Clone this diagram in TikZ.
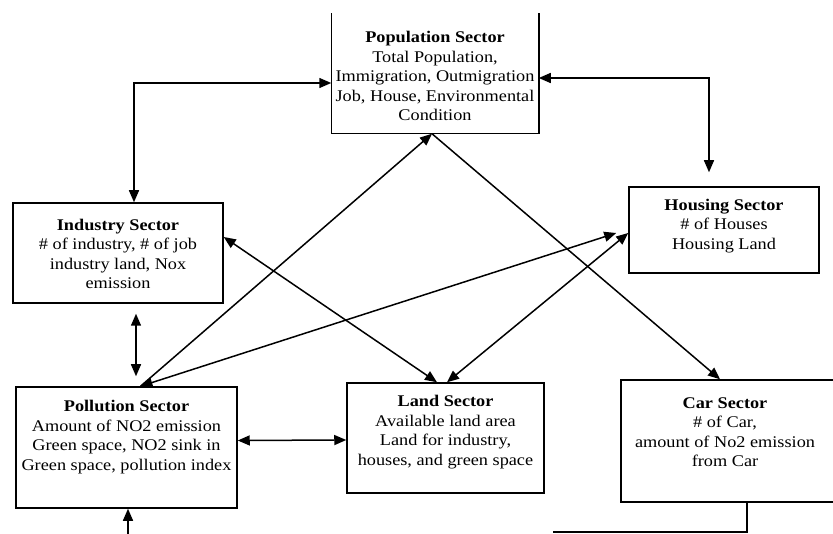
\documentclass[tikz,border=0pt]{standalone}
\usepackage{fontspec}
\setmainfont[FakeStretch=1.12]{Liberation Serif}
\usetikzlibrary{arrows.meta,calc}
\begin{document}
\begin{tikzpicture}[x=1pt,y=-1pt,
  line width=1.5pt,
  box/.style={draw,line width=1.5pt,inner sep=0pt},
  txt/.style={align=center,inner sep=0pt,font=\fontsize{16.3}{19.5}\selectfont},
  tip/.style={-{Triangle[length=12pt,width=10pt]}},
  tips/.style={{Triangle[length=12pt,width=10pt]}-{Triangle[length=12pt,width=10pt]}}]
\useasboundingbox (0,0) rectangle (833,534);
\clip (0,0) rectangle (833,534);
% boxes
\node[inner sep=0pt,minimum width=206pt,minimum height=119pt] (pop) at (435,73.5) {};
\draw[line width=1.5pt] (pop.north west) -- (pop.south west) -- (pop.south east) -- (pop.north east);
\node[box,minimum width=210pt,minimum height=100pt] (ind) at (118,253) {};
\node[box,minimum width=190pt,minimum height=86pt] (hou) at (724,230) {};
\node[box,minimum width=221pt,minimum height=121pt] (pol) at (126.5,447.5) {};
\node[box,minimum width=197pt,minimum height=110pt] (land) at (445.5,438) {};
\node[box,minimum width=214pt,minimum height=122pt] (car) at (728,441) {};
% texts
\node[txt] (popT) at (435,76) {\textbf{Population Sector}\\Total Population,\\Immigration, Outmigration\\Job, House, Environmental\\Condition};
\node[txt] (indT) at (118,254) {\textbf{Industry Sector}\\\# of industry, \# of job\\industry land, Nox\\emission};
\node[txt] (houT) at (724,226) {\textbf{Housing Sector}\\\# of Houses\\Housing Land};
\node[txt] (polT) at (126.5,437) {\textbf{Pollution Sector}\\Amount of NO2 emission\\Green space, NO2 sink in\\Green space, pollution index};
\node[txt] (landT) at (445.5,432) {\textbf{Land Sector}\\Available land area\\Land for industry,\\houses, and green space};
\node[txt] (carT) at (725,432) {\textbf{Car Sector}\\\# of Car,\\amount of No2 emission\\from Car};
% free ends
\coordinate (polin) at (128,545);
\coordinate (carout) at (553,532);
% connectors
\draw[tips] ($(pop.west)+(0,9.5)$) -| ($(ind.north)+(16,0)$);
\draw[tips] ($(pop.east)+(0,4.5)$) -| ($(hou.north)+(-15,-14)$);
\draw[tip] ($(pol.north)+(14,0)$) -- ($(pop.south)+(-3,0)$);
\draw[tip] ($(pop.south)+(-3,0)$) -- ($(car.north)+(-8,0)$);
\draw[tips] ($(ind.east)+(0,-16)$) -- ($(land.north)+(-8.5,0)$);
\draw[tips] ($(hou.west)+(0,3)$) -- ($(land.north)+(1.5,0)$);
\draw[tips] ($(pol.north)+(14,0)$) -- ($(hou.west)+(-12,3)$);
\draw[tips] ($(ind.south)+(18,10)$) -- ($(pol.north)+(9.5,-10)$);
\draw[tips] ($(pol.east)+(0,-7)$) -- ($(land.west)+(0,2)$);
\draw[tip] (polin) -- ($(pol.south)+(1.5,0)$);
\draw ($(car.south)+(19,0)$) |- (carout);
\end{tikzpicture}
\end{document}
